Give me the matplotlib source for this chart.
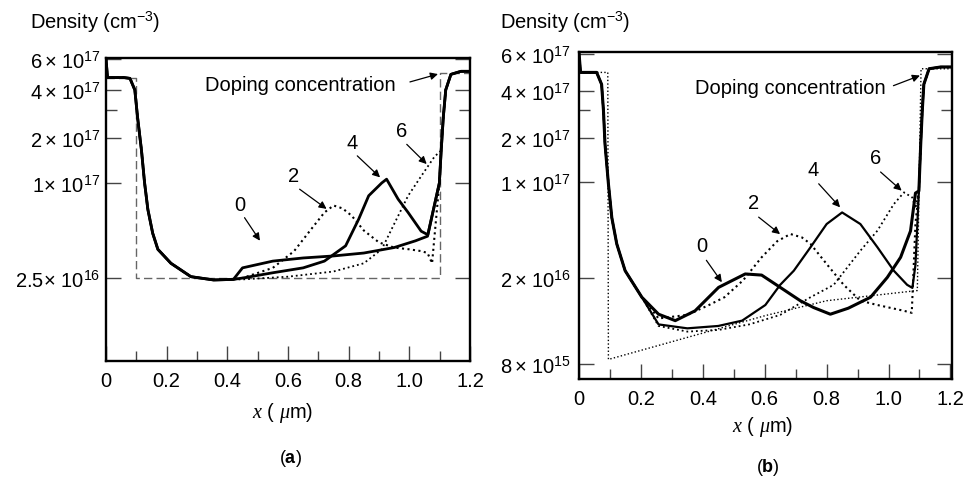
import numpy as np
import matplotlib
matplotlib.use("Agg")
import matplotlib.pyplot as plt

plt.rcParams['font.family'] = ['Liberation Sans', 'DejaVu Sans']
plt.rcParams['mathtext.fontset'] = 'custom'
plt.rcParams['mathtext.rm'] = 'Liberation Sans'
plt.rcParams['mathtext.it'] = 'Liberation Serif:italic'
plt.rcParams['mathtext.bf'] = 'Liberation Sans:bold'

# ---------------- panel (a) ----------------
a_edge_left_x = [0.0, 0.005, 0.06, 0.079, 0.095, 0.104, 0.117, 0.127, 0.138, 0.154, 0.171, 0.214, 0.28, 0.355, 0.42]
a_edge_left_y = [6.0e17, 4.7e17, 4.7e17, 4.65e17, 4.0e17, 2.7e17, 1.65e17, 1.01e17, 6.8e16, 4.8e16, 3.8e16, 3.1e16, 2.55e16, 2.43e16, 2.45e16]
a_edge_right_x = [1.083, 1.099, 1.105, 1.112, 1.12, 1.137, 1.17, 1.2]
a_edge_right_y = [4.6e16, 1.0e17, 1.65e17, 2.7e17, 4.0e17, 4.9e17, 5.1e17, 5.1e17]

a0_x = [0.45, 0.55, 0.65, 0.75, 0.85, 0.95, 1.02, 1.06]
a0_y = [2.9e16, 3.2e16, 3.35e16, 3.45e16, 3.6e16, 3.9e16, 4.3e16, 4.6e16]
a2_x = [0.45, 0.55, 0.62, 0.68, 0.72, 0.75, 0.78, 0.81, 0.85, 0.9, 0.95, 1.0, 1.04, 1.06, 1.075]
a2_y = [2.5e16, 2.9e16, 3.7e16, 5.2e16, 6.5e16, 7.2e16, 6.9e16, 6.2e16, 5.0e16, 4.2e16, 3.9e16, 3.8e16, 3.7e16, 3.6e16, 3.1e16]
a4_x = [0.45, 0.55, 0.65, 0.72, 0.79, 0.833, 0.866, 0.909, 0.925, 0.963, 0.996, 1.039, 1.061]
a4_y = [2.5e16, 2.7e16, 2.9e16, 3.2e16, 4.0e16, 5.9e16, 8.3e16, 1.0e17, 1.06e17, 7.9e16, 6.5e16, 4.95e16, 4.7e16]
a6_x = [0.45, 0.6, 0.75, 0.85, 0.909, 0.952, 0.996, 1.039, 1.083]
a6_y = [2.45e16, 2.55e16, 2.75e16, 3.1e16, 3.8e16, 5.6e16, 8.3e16, 1.11e17, 1.5e17]

a_dop_x = [0.0, 0.1, 0.1, 1.1, 1.1, 1.2]
a_dop_y = [4.7e17, 4.7e17, 2.5e16, 2.5e16, 5.0e17, 5.0e17]

a_ticks = [2.5e16, 1e17, 2e17, 4e17, 6e17]
a_tick_labels = [r'$2.5\!\times\,10^{16}$', r'$1\!\times\,10^{17}$', r'$2\times\,10^{17}$', r'$4\times\,10^{17}$', r'$6\times\,10^{17}$']

# ---------------- panel (b) ----------------
b_edge_left_x = [0.0, 0.005, 0.057, 0.073, 0.079, 0.084, 0.095, 0.106, 0.122, 0.149, 0.203]
b_edge_left_y = [6.1e17, 4.9e17, 4.9e17, 4.3e17, 3.0e17, 1.82e17, 9.7e16, 5.5e16, 3.54e16, 2.26e16, 1.63e16]
b_edge_right_x = [1.087, 1.098, 1.104, 1.109, 1.114, 1.131, 1.168, 1.205]
b_edge_right_y = [5.0e16, 8.6e16, 1.82e17, 3.0e17, 4.3e17, 5.1e17, 5.2e17, 5.2e17]

b0_x = [0.257, 0.311, 0.375, 0.451, 0.537, 0.59, 0.65, 0.715, 0.758, 0.812, 0.87, 0.942, 0.996, 1.039, 1.071, 1.087]
b0_y = [1.36e16, 1.27e16, 1.41e16, 1.81e16, 2.14e16, 2.1e16, 1.81e16, 1.57e16, 1.46e16, 1.36e16, 1.45e16, 1.63e16, 2.02e16, 2.83e16, 4.4e16, 8.3e16]
b2_x = [0.257, 0.35, 0.42, 0.47, 0.53, 0.59, 0.64, 0.683, 0.72, 0.748, 0.80, 0.855, 0.909, 0.964, 1.05, 1.075]
b2_y = [1.3e16, 1.35e16, 1.5e16, 1.63e16, 1.95e16, 2.83e16, 3.7e16, 4.18e16, 3.95e16, 3.54e16, 2.53e16, 1.86e16, 1.57e16, 1.5e16, 1.41e16, 1.38e16]
b4_x = [0.257, 0.35, 0.45, 0.527, 0.602, 0.65, 0.694, 0.748, 0.80, 0.85, 0.909, 0.964, 1.017, 1.06, 1.077, 1.087]
b4_y = [1.22e16, 1.17e16, 1.2e16, 1.27e16, 1.5e16, 1.86e16, 2.26e16, 3.35e16, 4.94e16, 6.0e16, 4.94e16, 3.35e16, 2.26e16, 1.86e16, 1.8e16, 2.5e16]
b6_x = [0.257, 0.35, 0.45, 0.55, 0.65, 0.748, 0.823, 0.909, 0.964, 1.017, 1.05, 1.077, 1.087]
b6_y = [1.2e16, 1.13e16, 1.15e16, 1.22e16, 1.35e16, 1.63e16, 1.86e16, 3.16e16, 4.42e16, 6.9e16, 8.4e16, 7.7e16, 6.4e16]

b_dop_x = [0.0, 0.093, 0.095, 0.602, 0.80, 1.093, 1.105, 1.205]
b_dop_y = [4.9e17, 4.9e17, 8.4e15, 1.34e16, 1.57e16, 1.75e16, 5.1e17, 5.1e17]

b_ticks = [8e15, 2e16, 1e17, 2e17, 4e17, 6e17]
b_tick_labels = [r'$8\times\,10^{15}$', r'$2\times\,10^{16}$', r'$1\times\,10^{17}$', r'$2\times\,10^{17}$', r'$4\times\,10^{17}$', r'$6\times\,10^{17}$']

FS = 14.5


def join(ex_l, ey_l, mx, my, ex_r, ey_r):
    # left flank + middle + right flank of one time step
    xs = [x for x in ex_l if x < mx[0]]
    ys = ey_l[:len(xs)]
    xr, yr = [], []
    for x, y in zip(ex_r, ey_r):
        if x > mx[-1] and y > my[-1]:
            xr.append(x)
            yr.append(y)
    return xs + list(mx) + xr, list(ys) + list(my) + yr


def axis_scale(vals, px, bottom):
    # the printed axis is only roughly logarithmic: follow its tick spacing
    lv = np.log10(vals)
    h = bottom - np.array(px, dtype=float)

    def fwd(y):
        y = np.clip(np.asarray(y, dtype=float), 1e10, None)
        return np.interp(np.log10(y), lv, h)

    def inv(v):
        return 10 ** np.interp(np.asarray(v, dtype=float), h, lv)
    return fwd, inv


def style_axes(ax):
    for s in ax.spines.values():
        s.set_linewidth(1.7)
    ax.tick_params(axis='x', which='major', direction='in', length=11, width=1.0, color='#444', labelsize=FS, pad=7, top=False)
    ax.tick_params(axis='x', which='minor', direction='in', length=7, width=1.0, color='#444', top=False)
    ax.tick_params(axis='y', which='major', direction='in', length=11, width=1.0, color='#444', labelsize=FS, pad=4, left=True, right=True)
    ax.tick_params(axis='y', which='minor', direction='in', length=8, width=1.0, color='#444', left=True, right=True)
    ax.set_xticks([0, 0.2, 0.4, 0.6, 0.8, 1.0, 1.2], ['0', '0.2', '0.4', '0.6', '0.8', '1.0', '1.2'])
    ax.set_xticks([0.1, 0.3, 0.5, 0.7, 0.9, 1.1], minor=True)


def label(ax, txt, tx, ty, hx, hy):
    ax.text(tx, ty, txt, transform=ax.transAxes, ha='center', va='center', fontsize=FS)
    ax.annotate('', xy=(hx, hy), xytext=(tx + (hx - tx) * 0.12 + 0.006, ty - 0.045), xycoords='axes fraction',
                arrowprops=dict(arrowstyle='-|>', color='black', lw=0.9, mutation_scale=11, shrinkA=0, shrinkB=0))


fig = plt.figure(figsize=(9.76, 4.81), dpi=100)

# ---- (a)
ax1 = fig.add_axes([106 / 976, 1 - 362 / 481, 364 / 976, 303 / 481])
fa, ia = axis_scale([1e15, 2.5e16, 1e17, 2e17, 4e17, 6e17, 1e19], [497, 279, 184, 139, 91, 60, -128], 362)
ax1.set_yscale('function', functions=(fa, ia))
ax1.plot(a_dop_x, a_dop_y, color='#666', lw=1.0, ls=(0, (6, 3)))
for mx, my, ls, lw in [(a0_x, a0_y, '-', 2.0), (a2_x, a2_y, ':', 1.5),
                       (a4_x, a4_y, '-', 2.0), (a6_x, a6_y, ':', 1.3)]:
    x, y = join(a_edge_left_x, a_edge_left_y, mx, my, a_edge_right_x, a_edge_right_y)
    ax1.plot(x, y, color='black', ls=ls, lw=lw)
ax1.set_xlim(0, 1.2)
ax1.set_ylim(7.35e15, 6.08e17)
style_axes(ax1)
ax1.set_yticks(a_ticks, a_tick_labels)
ax1.set_yticks([3e17], minor=True)
ax1.yaxis.set_minor_formatter(matplotlib.ticker.NullFormatter())
ax1.text(0.272, 0.911, 'Doping concentration', transform=ax1.transAxes, ha='left', va='center', fontsize=FS)
ax1.annotate('', xy=(0.912, 0.947), xytext=(0.835, 0.921), xycoords='axes fraction',
             arrowprops=dict(arrowstyle='-|>', color='black', lw=0.9, mutation_scale=11, shrinkA=0, shrinkB=0))
for txt, tx, ty, hx, hy in [('0', 0.368, 0.518, 0.423, 0.397), ('2', 0.515, 0.612, 0.606, 0.502),
                            ('4', 0.675, 0.722, 0.753, 0.606), ('6', 0.812, 0.760, 0.881, 0.650)]:
    label(ax1, txt, tx, ty, hx, hy)
ax1.text(0.486, -0.168, r'$x$ ( $\mu$m)', transform=ax1.transAxes, ha='center', va='center', fontsize=FS)
fig.text(30 / 976, 1 - 22 / 481, r'Density (cm$^{-3}$)', ha='left', va='center', fontsize=FS)
fig.text(290 / 976, 1 - 459 / 481, r'($\mathbf{a}$)', ha='center', va='center', fontsize=13)

# ---- (b)
ax2 = fig.add_axes([579 / 976, 1 - 380 / 481, 373 / 976, 327 / 481])
fb, ib = axis_scale([1e15, 8e15, 2e16, 1e17, 2e17, 4e17, 6e17, 1e19], [560, 365, 279, 183, 139, 92, 55, -128], 380)
ax2.set_yscale('function', functions=(fb, ib))
ax2.plot(b_dop_x, b_dop_y, color='black', lw=1.0, ls=(0, (1, 1.6)))
for mx, my, ls, lw in [(b0_x, b0_y, '-', 2.2), (b2_x, b2_y, ':', 1.5),
                       (b4_x, b4_y, '-', 1.6), (b6_x, b6_y, ':', 1.3)]:
    x, y = join(b_edge_left_x, b_edge_left_y, mx, my, b_edge_right_x, b_edge_right_y)
    ax2.plot(x, y, color='black', ls=ls, lw=lw)
ax2.set_xlim(0, 1.205)
ax2.set_ylim(6.82e15, 6.18e17)
style_axes(ax2)
ax2.set_yticks(b_ticks, b_tick_labels)
ax2.set_yticks([3e17], minor=True)
ax2.yaxis.set_minor_formatter(matplotlib.ticker.NullFormatter())
ax2.tick_params(axis='y', which='major', pad=6)
ax2.text(0.311, 0.892, 'Doping concentration', transform=ax2.transAxes, ha='left', va='center', fontsize=FS)
ax2.annotate('', xy=(0.914, 0.928), xytext=(0.843, 0.897), xycoords='axes fraction',
             arrowprops=dict(arrowstyle='-|>', color='black', lw=0.9, mutation_scale=11, shrinkA=0, shrinkB=0))
for txt, tx, ty, hx, hy in [('0', 0.329, 0.408, 0.383, 0.296), ('2', 0.467, 0.540, 0.539, 0.443),
                            ('4', 0.628, 0.642, 0.700, 0.525), ('6', 0.794, 0.678, 0.865, 0.576)]:
    label(ax2, txt, tx, ty, hx, hy)
ax2.text(0.493, -0.144, r'$x$ ( $\mu$m)', transform=ax2.transAxes, ha='center', va='center', fontsize=FS)
fig.text(500 / 976, 1 - 22 / 481, r'Density (cm$^{-3}$)', ha='left', va='center', fontsize=FS)
fig.text(768 / 976, 1 - 468 / 481, r'($\mathbf{b}$)', ha='center', va='center', fontsize=13)

fig.savefig('out.png', dpi=100)
